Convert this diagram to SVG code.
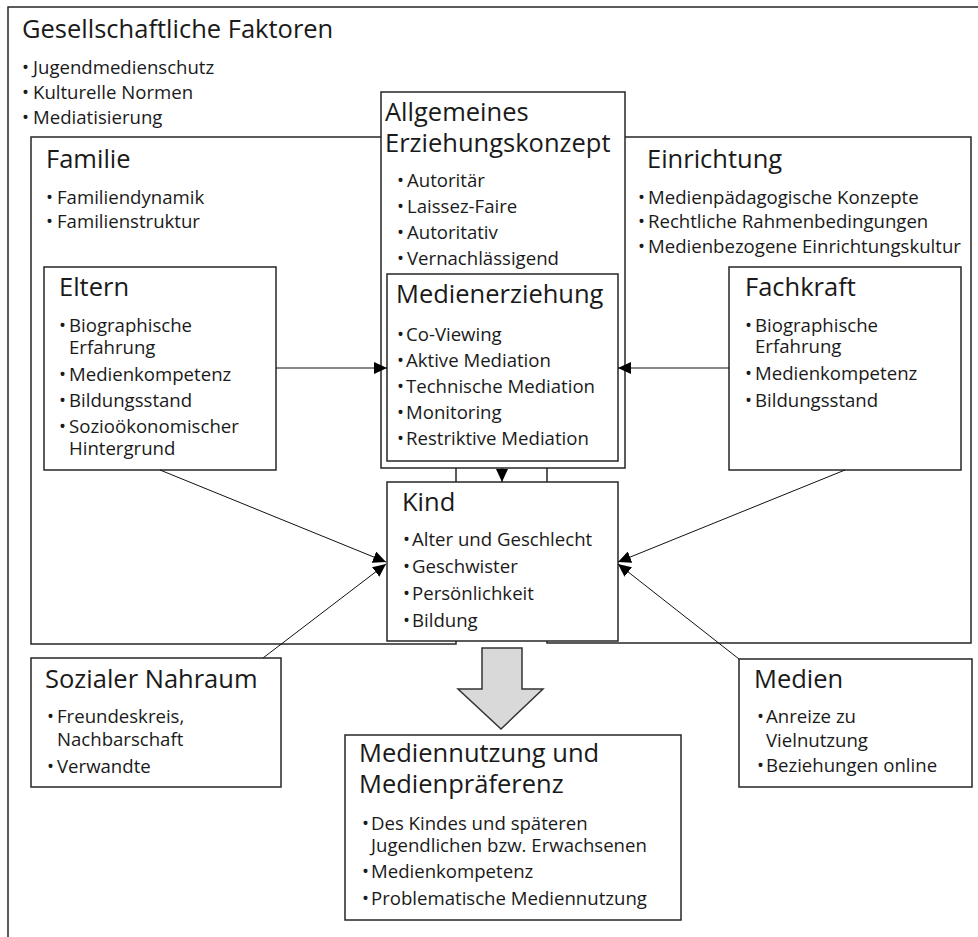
<svg xmlns="http://www.w3.org/2000/svg" width="978" height="937" viewBox="0 0 978 937">
<defs>
<style>
.box{fill:#fff;stroke:#262626;stroke-width:1.5}
.h{font-family:"Open Sans","Noto Sans",sans-serif;font-size:25.5px;fill:#1a1a1a}
.b{font-family:"Open Sans","Noto Sans",sans-serif;font-size:18.6px;fill:#1a1a1a}
.conn{stroke:#111;stroke-width:1;fill:none;marker-end:url(#ah)}
.big{fill:#d9d9d9;stroke:#333;stroke-width:1.5}
</style>
<marker id="ah" markerUnits="userSpaceOnUse" markerWidth="14" markerHeight="12" refX="13" refY="6" orient="auto">
<path d="M0,0 L13,6 L0,12 Z" fill="#000"/>
</marker>
</defs>
<rect width="978" height="937" fill="#fff"/>

<g id="gesellschaft">
<rect class="box" x="8" y="7" width="975" height="940"/>
<text class="h" x="22" y="38">Gesellschaftliche Faktoren</text>
<text class="b" x="22" y="74">•<tspan x="33">Jugendmedienschutz</tspan></text>
<text class="b" x="22" y="99">•<tspan x="33">Kulturelle Normen</tspan></text>
<text class="b" x="22" y="124">•<tspan x="33">Mediatisierung</tspan></text>
</g>

<g id="familie">
<rect class="box" x="31" y="137" width="425" height="507"/>
<text class="h" x="46" y="168">Familie</text>
<text class="b" x="46" y="204">•<tspan x="57">Familiendynamik</tspan></text>
<text class="b" x="46" y="228">•<tspan x="57">Familienstruktur</tspan></text>
</g>

<g id="einrichtung">
<rect class="box" x="547" y="137" width="424" height="506"/>
<text class="h" x="647" y="168">Einrichtung</text>
<text class="b" x="638" y="204">•<tspan x="648">Medienpädagogische Konzepte</tspan></text>
<text class="b" x="638" y="228">•<tspan x="648">Rechtliche Rahmenbedingungen</tspan></text>
<text class="b" x="638" y="253">•<tspan x="648">Medienbezogene Einrichtungskultur</tspan></text>
</g>

<g id="eltern">
<rect class="box" x="44" y="267" width="232" height="203"/>
<text class="h" x="59" y="296">Eltern</text>
<text class="b" x="59" y="332">•<tspan x="69">Biographische</tspan><tspan x="69" dy="22">Erfahrung</tspan></text>
<text class="b" x="59" y="381">•<tspan x="69">Medienkompetenz</tspan></text>
<text class="b" x="59" y="407">•<tspan x="69">Bildungsstand</tspan></text>
<text class="b" x="59" y="433">•<tspan x="69">Sozioökonomischer</tspan><tspan x="69" dy="22">Hintergrund</tspan></text>
</g>

<g id="fachkraft">
<rect class="box" x="729" y="267" width="232" height="203"/>
<text class="h" x="745" y="296">Fachkraft</text>
<text class="b" x="745" y="332">•<tspan x="755">Biographische</tspan><tspan x="755" dy="21">Erfahrung</tspan></text>
<text class="b" x="745" y="380">•<tspan x="755">Medienkompetenz</tspan></text>
<text class="b" x="745" y="407">•<tspan x="755">Bildungsstand</tspan></text>
</g>

<g id="erziehungskonzept">
<rect class="box" x="381" y="92" width="244" height="376"/>
<text class="h" x="385" y="121">Allgemeines<tspan x="385" dy="31">Erziehungskonzept</tspan></text>
<text class="b" x="397" y="187">•<tspan x="407">Autoritär</tspan></text>
<text class="b" x="397" y="213">•<tspan x="407">Laissez-Faire</tspan></text>
<text class="b" x="397" y="239">•<tspan x="407">Autoritativ</tspan></text>
<text class="b" x="397" y="265">•<tspan x="407">Vernachlässigend</tspan></text>
</g>

<g id="medienerziehung">
<rect class="box" x="387" y="274" width="231" height="187"/>
<text class="h" x="396" y="303">Medienerziehung</text>
<text class="b" x="397" y="341">•<tspan x="406">Co-Viewing</tspan></text>
<text class="b" x="397" y="367">•<tspan x="406">Aktive Mediation</tspan></text>
<text class="b" x="397" y="393">•<tspan x="406">Technische Mediation</tspan></text>
<text class="b" x="397" y="419">•<tspan x="406">Monitoring</tspan></text>
<text class="b" x="397" y="445">•<tspan x="406">Restriktive Mediation</tspan></text>
</g>

<g id="kind">
<rect class="box" x="387" y="482" width="231" height="159"/>
<text class="h" x="402" y="511">Kind</text>
<text class="b" x="403" y="546">•<tspan x="412">Alter und Geschlecht</tspan></text>
<text class="b" x="403" y="573">•<tspan x="412">Geschwister</tspan></text>
<text class="b" x="403" y="600">•<tspan x="412">Persönlichkeit</tspan></text>
<text class="b" x="403" y="627">•<tspan x="412">Bildung</tspan></text>
</g>

<g id="sozialer-nahraum">
<rect class="box" x="31" y="658" width="250" height="129"/>
<text class="h" x="45" y="688">Sozialer Nahraum</text>
<text class="b" x="47" y="723">•<tspan x="57">Freundeskreis,</tspan><tspan x="57" dy="23">Nachbarschaft</tspan></text>
<text class="b" x="47" y="773">•<tspan x="57">Verwandte</tspan></text>
</g>

<g id="medien">
<rect class="box" x="739" y="659" width="233" height="128"/>
<text class="h" x="754" y="688">Medien</text>
<text class="b" x="757" y="723">•<tspan x="766">Anreize zu</tspan><tspan x="766" dy="24">Vielnutzung</tspan></text>
<text class="b" x="757" y="772">•<tspan x="766">Beziehungen online</tspan></text>
</g>

<g id="mediennutzung">
<rect class="box" x="345" y="735" width="336" height="185"/>
<text class="h" x="359" y="762">Mediennutzung und<tspan x="359" dy="31">Medienpräferenz</tspan></text>
<text class="b" x="362" y="830">•<tspan x="371">Des Kindes und späteren</tspan><tspan x="371" dy="22">Jugendlichen bzw. Erwachsenen</tspan></text>
<text class="b" x="362" y="878">•<tspan x="371">Medienkompetenz</tspan></text>
<text class="b" x="362" y="905">•<tspan x="371">Problematische Mediennutzung</tspan></text>
</g>

<g id="connectors">
<line class="conn" x1="276" y1="368" x2="387" y2="368"/>
<line class="conn" x1="729" y1="368" x2="618" y2="368"/>
<line class="conn" x1="502" y1="468" x2="502" y2="482"/>
<line class="conn" x1="160" y1="470" x2="386" y2="562"/>
<line class="conn" x1="263" y1="658" x2="386" y2="564"/>
<line class="conn" x1="845" y1="470" x2="618" y2="562"/>
<line class="conn" x1="739" y1="659" x2="618" y2="564"/>
<polygon class="big" points="482,648 522,648 522,689 543,689 501,729 458,689 482,689"/>
</g>
</svg>
